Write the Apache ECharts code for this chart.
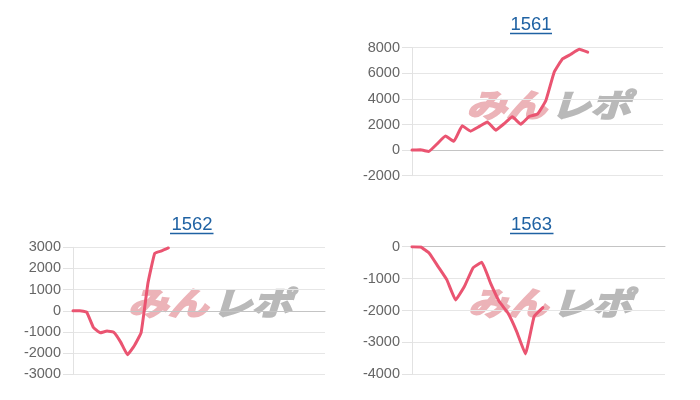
<!DOCTYPE html>
<html>
<head>
<meta charset="utf-8">
<script src="https://cdn.jsdelivr.net/npm/echarts@6/dist/echarts.min.js"></script>
<style>
html,body{margin:0;padding:0;background:#fff;}
#main{width:700px;height:400px;}
</style>
</head>
<body>
<div id="main"></div>
<script>
// ---- data ----
const titles = ['1561', '1562', '1563'];
const catCount = [31, 38, 30];
const values1561 = [0, 20, -100, 490, 1100, 690, 1900, 1480, 1830, 2200, 1560, 2060, 2600, 2020, 2630, 2810, 3870, 6100, 7130, 7490, 7870, 7650];
const values1562 = [0, 0, -60, -790, -1040, -960, -1020, -1480, -2080, -1650, -1030, 1300, 2720, 2830, 2970];
const values1563 = [0, -10, -210, -625, -1040, -1670, -1250, -660, -490, -1140, -1720, -2080, -2660, -3360, -2190, -1910];
const yMin = [-2000, -3000, -4000];
const yMax = [8000, 3000, 0];
const yStep = [2000, 1000, 1000];

// ---- layout ----
const grids = [
  {left: 412, top: 47.7, width: 251, height: 128},
  {left: 73, top: 247.3, width: 252, height: 127},
  {left: 412, top: 246.7, width: 253, height: 127.6}
];
const titlePos = [[531, 15], [192, 215], [531.5, 215]];
const underline = [[510, 552, 33.5], [170, 213.5, 233.5], [510, 553.5, 233.5]];
const markPos = [[547.5, 105], [209, 303], [549, 303]];

const seriesData = [values1561, values1562, values1563];
const lineColor = '#ea5471';
const titleColor = '#1f62a3';

const chart = echarts.init(document.getElementById('main'), null, {renderer: 'canvas'});

const xAxes = [], yAxes = [], series = [], title = [], graphic = [];
for (let i = 0; i < 3; i++) {
  const cats = [];
  for (let k = 0; k < catCount[i]; k++) cats.push(String(k + 1));
  xAxes.push({
    type: 'category', gridIndex: i, data: cats, boundaryGap: false,
    axisLabel: {show: false}, axisTick: {show: false},
    axisLine: {show: true, onZero: true, lineStyle: {color: '#c4c4c4', width: 1}},
    splitLine: {show: false}
  });
  yAxes.push({
    type: 'value', gridIndex: i, min: yMin[i], max: yMax[i], interval: yStep[i],
    axisLine: {show: true, lineStyle: {color: '#e2e2e2'}},
    axisTick: {show: true, length: 10, lineStyle: {color: '#e2e2e2'}},
    axisLabel: {color: '#666', fontSize: 14.5, fontFamily: 'Liberation Sans, Arial, sans-serif', margin: 12,
      formatter: v => String(v)},
    splitLine: {show: true, lineStyle: {color: '#e6e6e6', width: 1}}
  });
  series.push({
    type: 'line', xAxisIndex: i, yAxisIndex: i, data: seriesData[i],
    showSymbol: false, symbol: 'none', smooth: 0.1, z: 5,
    lineStyle: {color: lineColor, width: 3, cap: 'round', join: 'round'}
  });
  title.push({
    text: titles[i], left: titlePos[i][0], top: titlePos[i][1], textAlign: 'center', padding: 0,
    textStyle: {color: titleColor, fontSize: 18.5, fontWeight: 'normal', fontFamily: 'Liberation Sans, Arial, sans-serif'}
  });
  graphic.push({
    type: 'line', z: 10,
    shape: {x1: underline[i][0], y1: underline[i][2], x2: underline[i][1], y2: underline[i][2]},
    style: {stroke: titleColor, lineWidth: 1.5}
  });
  graphic.push({
    type: 'group', x: markPos[i][0], y: markPos[i][1], z: 1, scaleY: 0.8,
    children: [
      {type: 'text', x: -1, y: 0, style: {text: 'みん', fill: '#ecb3b8', stroke: '#ecb3b8', lineWidth: 2.5, font: 'italic bold 40px "Noto Sans CJK JP"', textAlign: 'right', textVerticalAlign: 'middle'}},
      {type: 'text', x: 3, y: 0, style: {text: 'レポ', fill: '#b9b9b9', stroke: '#b9b9b9', lineWidth: 2.5, font: 'italic bold 40px "Noto Sans CJK JP"', textAlign: 'left', textVerticalAlign: 'middle'}}
    ]
  });
}

chart.setOption({
  animation: false,
  backgroundColor: '#fff',
  title: title,
  grid: grids,
  xAxis: xAxes,
  yAxis: yAxes,
  series: series,
  graphic: graphic
});
</script>
</body>
</html>
